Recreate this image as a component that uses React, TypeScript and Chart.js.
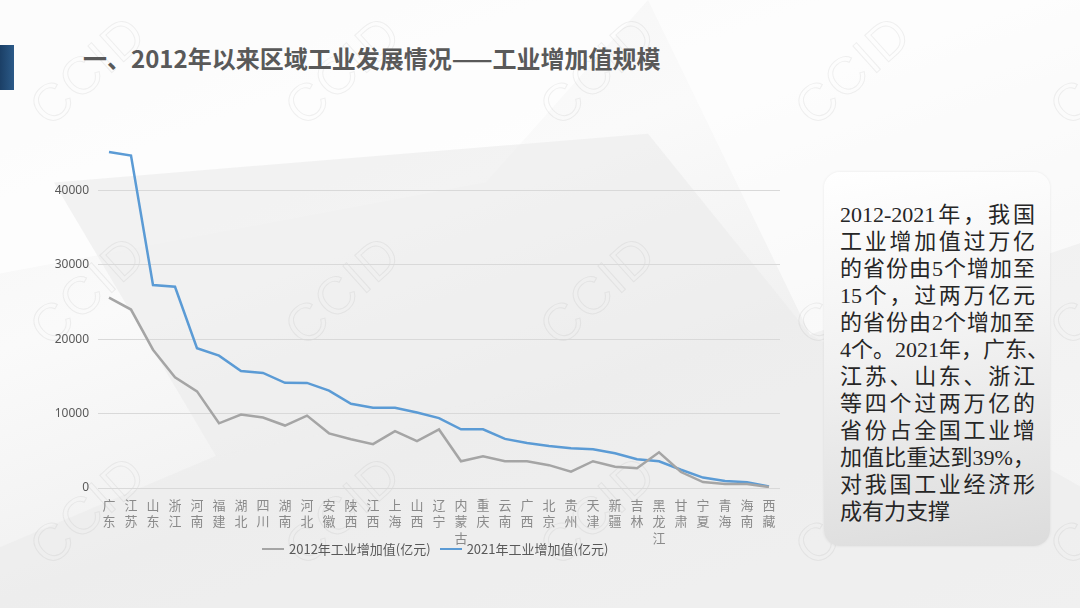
import React, { useEffect, useRef } from "react";
import { Chart, registerables } from "chart.js";

Chart.register(...registerables);

const provinces = [
  "广东", "江苏", "山东", "浙江", "河南", "福建", "湖北", "四川", "湖南", "河北",
  "安徽", "陕西", "江西", "上海", "山西", "辽宁", "内蒙古", "重庆", "云南", "广西",
  "北京", "贵州", "天津", "新疆", "吉林", "黑龙江", "甘肃", "宁夏", "青海", "海南", "西藏",
];

const value2012 = [
  25600, 24000, 18600, 14900, 13000, 8700, 9870, 9470, 8400, 9730,
  7350, 6550, 5900, 7650, 6300, 7870, 3600, 4270, 3600, 3600,
  3070, 2200, 3600, 2850, 2650, 4800, 2150, 800, 550, 530, 130,
];

const value2021 = [
  45200, 44700, 27300, 27070, 18800, 17800, 15730, 15470, 14150, 14130,
  13100, 11330, 10800, 10800, 10150, 9400, 7900, 7900, 6600, 6050,
  5650, 5330, 5200, 4670, 3870, 3600, 2450, 1400, 930, 780, 220,
];

const seriesNames = ["2012年工业增加值(亿元)", "2021年工业增加值(亿元)"];
const seriesColors = ["#a5a5a5", "#5b9bd5"];

const yMax = 50000;
const yStep = 10000;

const titleText = "一、2012年以来区域工业发展情况——工业增加值规模";
const noteLines = [
  "2012-2021年，我国",
  "工业增加值过万亿",
  "的省份由5个增加至",
  "15个，过两万亿元",
  "的省份由2个增加至",
  "4个。2021年，广东、",
  "江苏、山东、浙江",
  "等四个过两万亿的",
  "省份占全国工业增",
  "加值比重达到39%，",
  "对我国工业经济形",
  "成有力支撑",
];

const watermarkPositions: [number, number][] = [];
for (let r = 0; r < 3; r++) {
  for (let c = 0; c < 5; c++) {
    watermarkPositions.push([c * 255 + 20, r * 220 + 40]);
  }
}

export default function App() {
  const canvasRef = useRef<HTMLCanvasElement | null>(null);

  useEffect(() => {
    document.body.style.margin = "0";
    const canvas = canvasRef.current;
    if (!canvas) return;
    const chart = new Chart(canvas, {
      type: "line",
      data: {
        labels: provinces.map((p) => p.split("")),
        datasets: [
          {
            label: seriesNames[0],
            data: value2012,
            borderColor: seriesColors[0],
            backgroundColor: seriesColors[0],
            borderWidth: 2.5,
            pointRadius: 0,
            tension: 0,
          },
          {
            label: seriesNames[1],
            data: value2021,
            borderColor: seriesColors[1],
            backgroundColor: seriesColors[1],
            borderWidth: 2.5,
            pointRadius: 0,
            tension: 0,
          },
        ],
      },
      options: {
        animation: false,
        responsive: false,
        maintainAspectRatio: false,
        layout: { padding: { top: 12, right: 20, left: 0, bottom: 0 } },
        plugins: {
          legend: { display: false },
          tooltip: { enabled: false },
        },
        scales: {
          x: {
            offset: true,
            grid: { display: false, drawTicks: false },
            border: { display: false },
            ticks: {
              autoSkip: false,
              maxRotation: 0,
              minRotation: 0,
              padding: 9,
              color: "#8a8a8a",
              font: { size: 13, family: "'Noto Sans CJK SC', sans-serif", lineHeight: 1.25 },
            },
            afterFit: (scale: any) => {
              scale.height = 82;
            },
          },
          y: {
            min: 0,
            max: yMax,
            border: { display: false },
            grid: {
              drawTicks: false,
              lineWidth: 1,
              color: (ctx: any) =>
                ctx.tick && ctx.tick.value === yMax ? "rgba(0,0,0,0)" : "#d9d9d9",
            },
            ticks: {
              stepSize: yStep,
              padding: 9,
              color: "#595959",
              font: { size: 12, family: "'Noto Sans', sans-serif" },
              callback: (v: any) => (v === yMax ? "" : String(v)),
            },
            afterFit: (scale: any) => {
              scale.width = 58;
            },
          },
        },
      },
    });
    return () => chart.destroy();
  }, []);

  return (
    <div
      style={{
        position: "relative",
        width: 1080,
        height: 608,
        overflow: "hidden",
        background: "linear-gradient(160deg, #f3f3f3 0%, #fafafa 35%, #f1f1f1 60%, #f6f6f6 100%)",
        fontFamily: "'Noto Sans CJK SC', sans-serif",
      }}
    >
      {/* background shapes */}
      <div
        style={{
          position: "absolute",
          inset: 0,
          background: "#ffffff",
          opacity: 0.7,
          clipPath: "polygon(0% 0%, 60% 0%, 45% 30%, 0% 45%)",
        }}
      />
      <div
        style={{
          position: "absolute",
          inset: 0,
          background: "#ebebeb",
          opacity: 0.6,
          clipPath: "polygon(5% 30%, 60% 22%, 75% 55%, 20% 75%)",
        }}
      />
      <div
        style={{
          position: "absolute",
          inset: 0,
          background: "#ffffff",
          opacity: 0.6,
          clipPath: "polygon(60% 0%, 100% 0%, 100% 40%, 75% 55%)",
        }}
      />
      <div
        style={{
          position: "absolute",
          inset: 0,
          background: "#e9e9e9",
          opacity: 0.5,
          clipPath: "polygon(20% 75%, 75% 55%, 100% 80%, 100% 100%, 0% 100%, 0% 90%)",
        }}
      />
      {watermarkPositions.map(([x, y], i) => (
        <div
          key={i}
          style={{
            position: "absolute",
            left: x,
            top: y,
            fontSize: 52,
            fontFamily: "'Liberation Sans', sans-serif",
            color: "rgba(0,0,0,0)",
            WebkitTextStroke: "1px rgba(150,150,150,0.13)",
            transform: "rotate(-42deg)",
            transformOrigin: "center",
            letterSpacing: 2,
          }}
        >
          CCID
        </div>
      ))}

      {/* left bar */}
      <div
        style={{
          position: "absolute",
          left: 0,
          top: 45,
          width: 14,
          height: 45,
          background: "linear-gradient(90deg, #1b3f66, #2b5a88)",
        }}
      />
      {/* title */}
      <div
        style={{
          position: "absolute",
          left: 83,
          top: 43,
          fontSize: 24,
          fontWeight: 700,
          color: "#595959",
          lineHeight: "30px",
          whiteSpace: "nowrap",
        }}
      >
        {titleText}
      </div>

      {/* chart */}
      <div style={{ position: "absolute", left: 40, top: 100, width: 760, height: 470 }}>
        <canvas ref={canvasRef} width={760} height={470} style={{ width: 760, height: 470 }} />
      </div>

      {/* legend */}
      <div
        style={{
          position: "absolute",
          left: 262,
          top: 540,
          display: "flex",
          alignItems: "center",
          fontSize: 13,
          color: "#595959",
          lineHeight: "18px",
          whiteSpace: "nowrap",
        }}
      >
        {seriesNames.map((name, i) => (
          <div key={i} style={{ display: "flex", alignItems: "center", marginRight: 9 }}>
            <div style={{ width: 22, height: 2.5, background: seriesColors[i], marginRight: 5 }} />
            <span>{name}</span>
          </div>
        ))}
      </div>

      {/* note box */}
      <div
        style={{
          position: "absolute",
          left: 824,
          top: 172,
          width: 226,
          height: 374,
          borderRadius: 16,
          background: "linear-gradient(170deg, #ffffff 0%, #f2f2f2 45%, #dcdcdc 100%)",
          boxShadow: "0 0 3px rgba(0,0,0,0.08)",
          boxSizing: "border-box",
          padding: "29px 0 0 16px",
          fontFamily: "'Liberation Serif', 'Noto Sans CJK SC', serif",
          fontSize: 22,
          lineHeight: "27px",
          color: "#262626",
        }}
      >
        {noteLines.map((line, i) => (
          <div
            key={i}
            style={{
              width: 195,
              whiteSpace: "nowrap",
              textAlign: "justify",
              textAlignLast: i === noteLines.length - 1 ? "left" : "justify",
            }}
          >
            {line}
          </div>
        ))}
      </div>
    </div>
  );
}
